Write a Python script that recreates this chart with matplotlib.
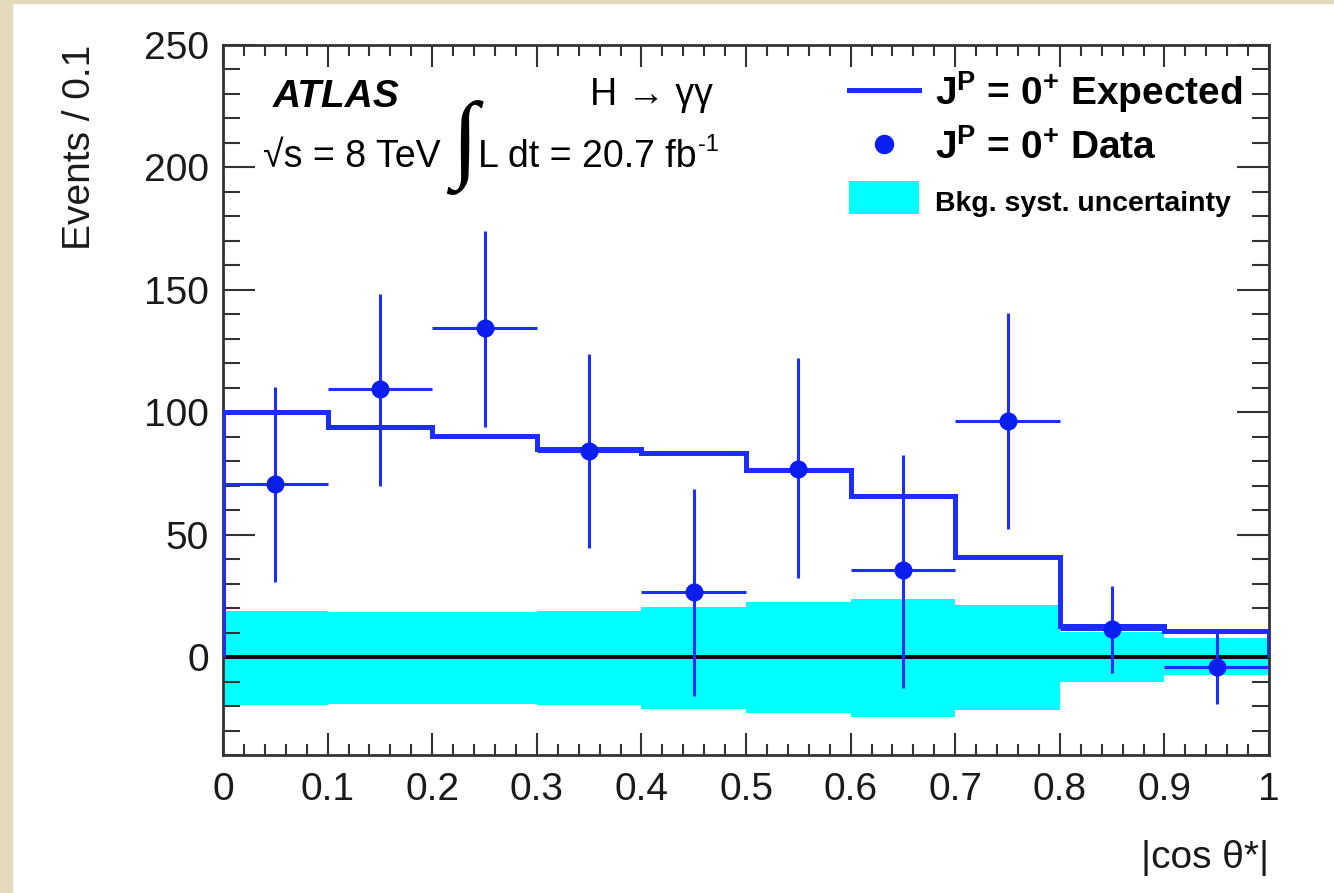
import matplotlib
matplotlib.use("Agg")
import matplotlib.pyplot as plt
from matplotlib.lines import Line2D
from matplotlib.patches import Patch, Rectangle
from matplotlib.ticker import MultipleLocator, FuncFormatter
import numpy as np

plt.rcParams["font.family"] = ["Liberation Sans", "DejaVu Sans"]
plt.rcParams["mathtext.fontset"] = "custom"
plt.rcParams["mathtext.rm"] = "Liberation Sans"
plt.rcParams["mathtext.it"] = "Liberation Sans:italic"
plt.rcParams["mathtext.bf"] = "Liberation Sans:bold"

# |cos theta*| binning, 10 bins of 0.1
bin_edges = [0.0, 0.1, 0.2, 0.3, 0.4, 0.5, 0.6, 0.7, 0.8, 0.9, 1.0]
bin_centres = [0.05, 0.15, 0.25, 0.35, 0.45, 0.55, 0.65, 0.75, 0.85, 0.95]

# spin 0+ expectation (background subtracted)
expected = [100, 94, 90.5, 85, 83.5, 76.5, 66, 41, 12.5, 10.8]

# background-subtracted data with asymmetric errors
data = [70.5, 109.5, 134.5, 84, 26.5, 77, 35.5, 96.5, 11.5, -4]
err_lo = [40, 39.5, 40.5, 39.5, 42.5, 44.5, 48, 44, 18, 15]
err_hi = [40, 39, 39.5, 40, 42, 45, 47, 44, 17.5, 14]

# background systematic band
band_hi = [18.7, 18.4, 18.5, 18.8, 20.3, 22.6, 23.7, 21.2, 10.3, 7.8]
band_lo = [-19.5, -19.2, -19.2, -19.5, -21.2, -22.9, -24.4, -21.7, -10.0, -7.4]

blue = "#1e2dff"

fig = plt.figure(figsize=(13.34, 8.93), dpi=100)
fig.patch.set_facecolor("white")
# beige frame strips on the left and top edges
fig.patches.append(Rectangle((0, 0), 12 / 1334, 1, transform=fig.transFigure,
                             color="#e3d9bb", zorder=-5))
fig.patches.append(Rectangle((0, 1 - 3 / 893), 1, 3 / 893, transform=fig.transFigure,
                             color="#e3d9bb", zorder=-5))

ax = fig.add_axes([0.1672, 0.1545, 0.7841, 0.7951])

ax.stairs(band_hi, bin_edges, baseline=band_lo, fill=True, color="#00ffff",
          lw=0, zorder=1)
ax.axhline(0, color="black", lw=2.8, zorder=2)
ax.stairs(expected, bin_edges, color=blue, lw=3.6, zorder=3)
ax.errorbar(bin_centres, data, yerr=[err_lo, err_hi], xerr=0.05, fmt="o",
            color=blue, mfc="#0b1ef0", mec="#0b1ef0", ms=12, elinewidth=2.2,
            capsize=0, zorder=4)

ax.set_xlim(0, 1)
ax.set_ylim(-40, 250)
ax.xaxis.set_major_locator(MultipleLocator(0.1))
ax.xaxis.set_minor_locator(MultipleLocator(0.02))
ax.yaxis.set_major_locator(MultipleLocator(50))
ax.yaxis.set_minor_locator(MultipleLocator(10))
ax.xaxis.set_major_formatter(FuncFormatter(lambda v, p: "%g" % round(v, 2)))
ax.tick_params(which="both", direction="in", top=True, right=True,
               width=1.5, color="#333333", labelsize=28, labelcolor="#1a1a1a")
ax.tick_params(axis="x", which="major", length=16, pad=12)
ax.tick_params(axis="x", which="minor", length=8)
ax.tick_params(axis="y", which="major", length=23, pad=10)
ax.tick_params(axis="y", which="minor", length=12)
for s in ax.spines.values():
    s.set_linewidth(2)
    s.set_color("#333333")

ax.set_ylabel("Events / 0.1", fontsize=28, loc="top", color="#1a1a1a")
ax.yaxis.set_label_coords(-0.12, 1.0)
ax.set_xlabel("|cos θ*|", fontsize=28, loc="right", color="#1a1a1a")
ax.xaxis.set_label_coords(1.0, -0.12)

ax.text(0.048, 224.7, "ATLAS", fontsize=28, fontweight="bold", style="italic")
ax.text(0.038, 200, "√s = 8 TeV", fontsize=27, va="baseline")
ax.text(0.231, 208, "∫", fontsize=70, ha="center", va="center",
        family=["Liberation Serif", "DejaVu Serif"])
lumi = ax.text(0.2437, 200, "L dt = 20.7 fb", fontsize=27, va="baseline")
ax.annotate("-1", xy=(1, 1), xycoords=lumi, xytext=(1, 4),
            textcoords="offset points", ha="left", va="top", fontsize=17)
ax.text(0.351, 225.5, "H → γγ", fontsize=27, va="baseline")

handles = [Line2D([], [], color=blue, lw=3.6),
           Line2D([], [], ls="", marker="o", color="#0b1ef0", ms=13),
           Patch(facecolor="#00ffff", edgecolor="none")]
labels = [r"J$^{\mathbf{P}}$ = 0$^{\mathbf{+}}$ Expected",
          r"J$^{\mathbf{P}}$ = 0$^{\mathbf{+}}$ Data",
          "Bkg. syst. uncertainty"]
leg = ax.legend(handles, labels, loc="upper left", bbox_to_anchor=(0.58, 0.993),
                frameon=False, borderpad=0, handlelength=1.8, handleheight=0.95,
                handletextpad=0.4, labelspacing=0.35,
                prop={"size": 28, "weight": "bold"})
leg.get_texts()[2].set_fontsize(20.5)

fig.savefig("out.png", dpi=100)
